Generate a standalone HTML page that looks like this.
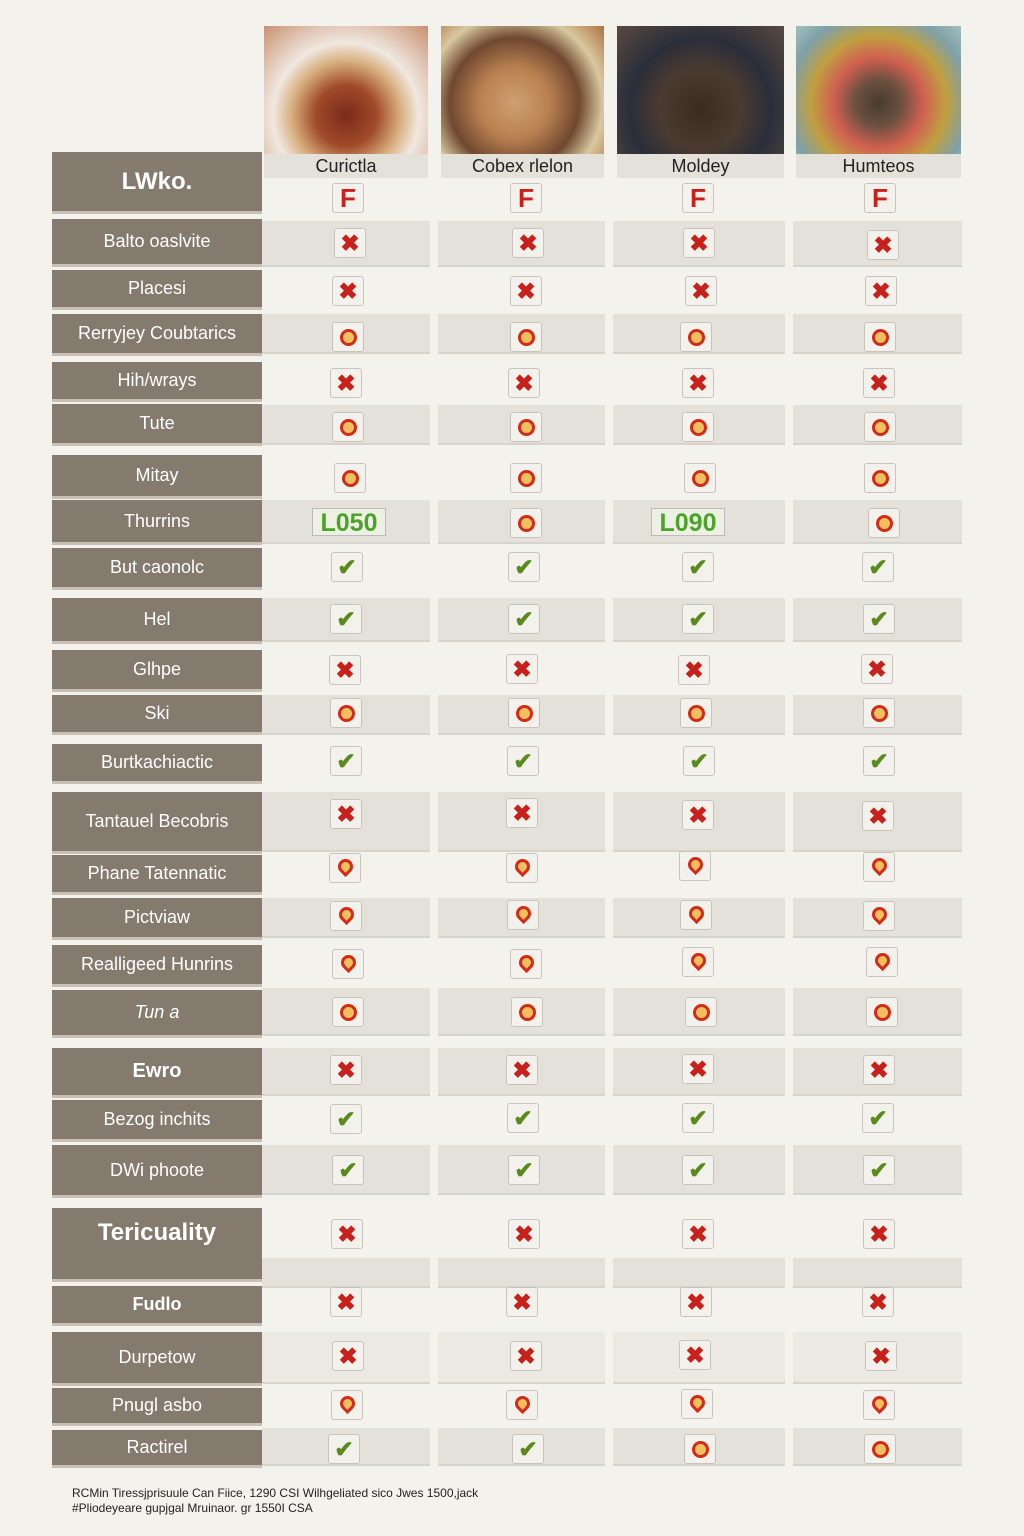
<!DOCTYPE html>
<html><head><meta charset="utf-8"><style>
body{margin:0;width:1024px;height:1536px;background:#f4f2ec;position:relative;font-family:"Liberation Sans",sans-serif;overflow:hidden}
div{position:absolute;box-sizing:border-box}
.l{left:52px;width:210px;background:#857a6e;color:#fff;font-size:18px;display:flex;align-items:center;justify-content:center;border-bottom:3px solid #c9bfb2}
.b{height:40px;background:#e4e1da;border-bottom:2px solid #d8d4cc}
.gap{top:214px;height:1254px;width:8px;background:#f4f2ec}
.c{width:32px;height:30px;margin-left:-16px;margin-top:-15px;border:1px solid #c8c4bc;border-radius:3px;background:#f3f1ec;text-align:center;line-height:29px;font-size:23px;font-weight:bold}
.x{color:#c8201a}.k{color:#5a8a1c}
.o::after{content:"";position:absolute;left:7px;top:6px;width:17px;height:17px;border-radius:50%;background:#f0c060;border:3px solid #d42a18;box-sizing:border-box}
.p::after{content:"";position:absolute;left:8px;top:5px;width:15px;height:15px;border-radius:50% 50% 50% 0;transform:rotate(-45deg);background:#f0c060;border:3px solid #d42a18;box-sizing:border-box}
.f{color:#c8201a;font-size:26px;font-family:"Liberation Sans",sans-serif}
.img{top:26px;height:128px}
.h{top:154px;height:24px;background:#e4e1da;font-size:18px;text-align:center;line-height:24px;color:#222}
.g{width:74px;height:28px;margin-left:-37px;margin-top:-14px;border:1px solid #bbb;background:#eef0e4;color:#4aa42a;font-size:25px;font-weight:bold;text-align:center;line-height:28px}
</style></head><body>
<div class="img" style="left:264px;width:164px;background:radial-gradient(circle at 50% 70%,#7a2a1a 0,#a04a2a 25%,#d8b080 45%,#f0e8e0 60%,#c89070 100%)"></div>
<div class="img" style="left:441px;width:163px;background:radial-gradient(circle at 45% 60%,#d0a070 0,#b88050 30%,#704830 55%,#d8c8a0 75%,#b07040 100%)"></div>
<div class="img" style="left:617px;width:167px;background:radial-gradient(circle at 50% 65%,#3a2a20 0,#4a3a30 35%,#2a2e3a 60%,#5a4a40 100%)"></div>
<div class="img" style="left:796px;width:165px;background:radial-gradient(circle at 50% 60%,#4a3a30 0,#6a5040 20%,#d06050 40%,#c0a040 60%,#80a0a8 80%,#a0c0c0 100%)"></div>
<div class="h" style="left:264px;width:164px">Curictla</div>
<div class="h" style="left:441px;width:163px">Cobex rlelon</div>
<div class="h" style="left:617px;width:167px">Moldey</div>
<div class="h" style="left:796px;width:165px">Humteos</div>
<div class="l" style="top:152px;height:62px;font-size:24px;font-weight:bold">LWko.</div>
<div class="c f" style="left:348px;top:198px">F</div><div class="c f" style="left:526px;top:198px">F</div><div class="c f" style="left:698px;top:198px">F</div><div class="c f" style="left:880px;top:198px">F</div>

<div class="b" style="left:262px;width:700px;top:221px;height:46px"></div>
<div class="b" style="left:262px;width:700px;top:314px"></div>
<div class="b" style="left:262px;width:700px;top:405px"></div>
<div class="b" style="left:262px;width:700px;top:500px;height:44px"></div>
<div class="b" style="left:262px;width:700px;top:598px;height:44px"></div>
<div class="b" style="left:262px;width:700px;top:695px"></div>
<div class="b" style="left:262px;width:700px;top:792px;height:60px"></div>
<div class="b" style="left:262px;width:700px;top:898px"></div>
<div class="b" style="left:262px;width:700px;top:988px;height:48px"></div>
<div class="b" style="left:262px;width:700px;top:1048px;height:48px"></div>
<div class="b" style="left:262px;width:700px;top:1145px;height:50px"></div>
<div class="b" style="left:262px;width:700px;top:1258px;height:30px"></div>
<div class="b" style="left:262px;width:700px;top:1332px;height:52px;background:#ece9e2"></div>
<div class="b" style="left:262px;width:700px;top:1428px;height:38px"></div>
<div class="gap" style="left:430px"></div>
<div class="gap" style="left:605px"></div>
<div class="gap" style="left:785px"></div>

<div class="l" style="top:219px;height:48px">Balto oaslvite</div>
<div class="l" style="top:270px;height:40px">Placesi</div>
<div class="l" style="top:314px;height:42px">Rerryjey Coubtarics</div>
<div class="l" style="top:362px;height:40px">Hih/wrays</div>
<div class="l" style="top:404px;height:42px">Tute</div>
<div class="l" style="top:455px;height:44px">Mitay</div>
<div class="l" style="top:500px;height:45px">Thurrins</div>
<div class="l" style="top:548px;height:42px">But caonolc</div>
<div class="l" style="top:598px;height:46px">Hel</div>
<div class="l" style="top:650px;height:42px">Glhpe</div>
<div class="l" style="top:695px;height:40px">Ski</div>
<div class="l" style="top:744px;height:40px">Burtkachiactic</div>
<div class="l" style="top:792px;height:62px">Tantauel Becobris</div>
<div class="l" style="top:855px;height:40px">Phane Tatennatic</div>
<div class="l" style="top:898px;height:42px">Pictviaw</div>
<div class="l" style="top:945px;height:42px">Realligeed Hunrins</div>
<div class="l" style="top:990px;height:48px;font-style:italic">Tun a</div>
<div class="l" style="top:1048px;height:50px;font-size:20px;font-weight:bold">Ewro</div>
<div class="l" style="top:1100px;height:42px">Bezog inchits</div>
<div class="l" style="top:1145px;height:53px">DWi phoote</div>
<div class="l" style="top:1208px;height:74px;font-size:24px;font-weight:bold;padding-bottom:22px">Tericuality</div>
<div class="l" style="top:1286px;height:40px;font-weight:bold">Fudlo</div>
<div class="l" style="top:1332px;height:54px">Durpetow</div>
<div class="l" style="top:1388px;height:38px">Pnugl asbo</div>
<div class="l" style="top:1430px;height:38px">Ractirel</div>

<div class="c x" style="left:350px;top:243px">✖</div><div class="c x" style="left:528px;top:243px">✖</div><div class="c x" style="left:699px;top:243px">✖</div><div class="c x" style="left:883px;top:245px">✖</div>
<div class="c x" style="left:348px;top:291px">✖</div><div class="c x" style="left:526px;top:291px">✖</div><div class="c x" style="left:701px;top:291px">✖</div><div class="c x" style="left:881px;top:291px">✖</div>
<div class="c o" style="left:348px;top:337px"></div><div class="c o" style="left:526px;top:337px"></div><div class="c o" style="left:696px;top:337px"></div><div class="c o" style="left:880px;top:337px"></div>
<div class="c x" style="left:346px;top:383px">✖</div><div class="c x" style="left:524px;top:383px">✖</div><div class="c x" style="left:698px;top:383px">✖</div><div class="c x" style="left:879px;top:383px">✖</div>
<div class="c o" style="left:348px;top:427px"></div><div class="c o" style="left:526px;top:427px"></div><div class="c o" style="left:698px;top:427px"></div><div class="c o" style="left:880px;top:427px"></div>
<div class="c o" style="left:350px;top:478px"></div><div class="c o" style="left:526px;top:478px"></div><div class="c o" style="left:700px;top:478px"></div><div class="c o" style="left:880px;top:478px"></div>
<div class="g" style="left:349px;top:522px">L050</div><div class="c o" style="left:526px;top:523px"></div><div class="g" style="left:688px;top:522px">L090</div><div class="c o" style="left:884px;top:523px"></div>
<div class="c k" style="left:347px;top:567px">✔</div><div class="c k" style="left:524px;top:567px">✔</div><div class="c k" style="left:698px;top:567px">✔</div><div class="c k" style="left:878px;top:567px">✔</div>
<div class="c k" style="left:346px;top:619px">✔</div><div class="c k" style="left:524px;top:619px">✔</div><div class="c k" style="left:698px;top:619px">✔</div><div class="c k" style="left:879px;top:619px">✔</div>
<div class="c x" style="left:345px;top:670px">✖</div><div class="c x" style="left:522px;top:669px">✖</div><div class="c x" style="left:694px;top:670px">✖</div><div class="c x" style="left:877px;top:669px">✖</div>
<div class="c o" style="left:346px;top:713px"></div><div class="c o" style="left:524px;top:713px"></div><div class="c o" style="left:696px;top:713px"></div><div class="c o" style="left:879px;top:713px"></div>
<div class="c k" style="left:346px;top:761px">✔</div><div class="c k" style="left:523px;top:761px">✔</div><div class="c k" style="left:699px;top:761px">✔</div><div class="c k" style="left:879px;top:761px">✔</div>
<div class="c x" style="left:346px;top:814px">✖</div><div class="c x" style="left:522px;top:813px">✖</div><div class="c x" style="left:698px;top:815px">✖</div><div class="c x" style="left:878px;top:816px">✖</div>
<div class="c p" style="left:345px;top:868px"></div><div class="c p" style="left:522px;top:868px"></div><div class="c p" style="left:695px;top:866px"></div><div class="c p" style="left:879px;top:867px"></div>
<div class="c p" style="left:346px;top:916px"></div><div class="c p" style="left:523px;top:915px"></div><div class="c p" style="left:696px;top:915px"></div><div class="c p" style="left:879px;top:916px"></div>
<div class="c p" style="left:348px;top:964px"></div><div class="c p" style="left:526px;top:964px"></div><div class="c p" style="left:698px;top:962px"></div><div class="c p" style="left:882px;top:962px"></div>
<div class="c o" style="left:348px;top:1012px"></div><div class="c o" style="left:527px;top:1012px"></div><div class="c o" style="left:701px;top:1012px"></div><div class="c o" style="left:882px;top:1012px"></div>
<div class="c x" style="left:346px;top:1070px">✖</div><div class="c x" style="left:522px;top:1070px">✖</div><div class="c x" style="left:698px;top:1069px">✖</div><div class="c x" style="left:879px;top:1070px">✖</div>
<div class="c k" style="left:346px;top:1119px">✔</div><div class="c k" style="left:523px;top:1118px">✔</div><div class="c k" style="left:698px;top:1118px">✔</div><div class="c k" style="left:878px;top:1118px">✔</div>
<div class="c k" style="left:348px;top:1170px">✔</div><div class="c k" style="left:524px;top:1170px">✔</div><div class="c k" style="left:698px;top:1170px">✔</div><div class="c k" style="left:879px;top:1170px">✔</div>
<div class="c x" style="left:347px;top:1234px">✖</div><div class="c x" style="left:524px;top:1234px">✖</div><div class="c x" style="left:698px;top:1234px">✖</div><div class="c x" style="left:879px;top:1234px">✖</div>
<div class="c x" style="left:346px;top:1302px">✖</div><div class="c x" style="left:522px;top:1302px">✖</div><div class="c x" style="left:696px;top:1302px">✖</div><div class="c x" style="left:878px;top:1302px">✖</div>
<div class="c x" style="left:348px;top:1356px">✖</div><div class="c x" style="left:526px;top:1356px">✖</div><div class="c x" style="left:695px;top:1355px">✖</div><div class="c x" style="left:881px;top:1356px">✖</div>
<div class="c p" style="left:347px;top:1405px"></div><div class="c p" style="left:522px;top:1405px"></div><div class="c p" style="left:697px;top:1404px"></div><div class="c p" style="left:879px;top:1405px"></div>
<div class="c k" style="left:344px;top:1449px">✔</div><div class="c k" style="left:528px;top:1449px">✔</div><div class="c o" style="left:700px;top:1449px"></div><div class="c o" style="left:880px;top:1449px"></div>

<div style="left:72px;top:1486px;font-size:12px;color:#222;line-height:15px;white-space:nowrap">RCMin Tiressjprisuule Can Fiice, 1290 CSI Wilhgeliated sico Jwes 1500,jack<br>#Pliodeyeare gupjgal Mruinaor. gr 1550I CSA</div>
</body></html>
